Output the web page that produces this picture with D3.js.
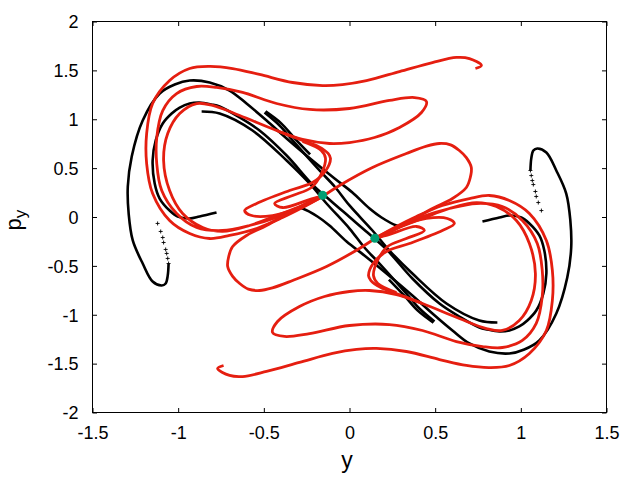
<!DOCTYPE html>
<html><head><meta charset="utf-8">
<script src="https://cdn.jsdelivr.net/npm/d3@7/dist/d3.min.js"></script>
<style>html,body{margin:0;background:#fff}svg{display:block}text{font-family:"Liberation Sans",Arial,sans-serif;fill:#000}</style>
</head><body><svg id="c" width="640" height="480"></svg>
<script>
const xTicks=[-1.5,-1,-0.5,0,0.5,1,1.5];
const yTicks=[-2,-1.5,-1,-0.5,0,0.5,1,1.5,2];
const xLabels=["-1.5","-1","-0.5","0","0.5","1","1.5"];
const yLabels=["-2","-1.5","-1","-0.5","0","0.5","1","1.5","2"];
const blackOuterA=[[1.056,.476],[1.061,.600],[1.073,.680],[1.096,.701],[1.149,.660],[1.207,.476],[1.265,.240],[1.289,-.036],[1.294,-.312],[1.271,-.619],[1.207,-.987],[1.108,-1.263],[1.020,-1.355],[.933,-1.396],[.816,-1.376],[.700,-1.294],[.601,-1.161],[.484,-.987],[.367,-.803],[.216,-.578],[.087,-.394],[-.017,-.251],[-.117,-.087],[-.187,.005],[-.274,.087],[-.300,.095]];
const blackOuterB=[[-1.056,-.476],[-1.061,-.600],[-1.073,-.680],[-1.096,-.701],[-1.149,-.660],[-1.207,-.476],[-1.265,-.240],[-1.289,.036],[-1.294,.312],[-1.271,.619],[-1.207,.987],[-1.108,1.263],[-1.020,1.355],[-.933,1.396],[-.816,1.376],[-.700,1.294],[-.601,1.161],[-.484,.987],[-.367,.803],[-.216,.578],[-.087,.394],[.017,.251],[.117,.087],[.187,-.005],[.274,-.087],[.300,-.095]];
const blackCentre=[[-.776,.046],[-.875,.005],[-.933,-.015],[-1.003,.005],[-1.050,.066],[-1.108,.189],[-1.137,.343],[-1.149,.578],[-1.131,.783],[-1.090,.957],[-1.038,1.059],[-.991,1.120],[-.933,1.161],[-.875,1.171],[-.805,1.151],[-.758,1.130],[-.641,1.018],[-.525,.885],[-.367,.629],[-.216,.332],[-.105,.159],[0,0],[.105,-.159],[.216,-.332],[.367,-.629],[.525,-.885],[.641,-1.018],[.758,-1.130],[.805,-1.151],[.875,-1.171],[.933,-1.161],[.991,-1.120],[1.038,-1.059],[1.090,-.957],[1.131,-.783],[1.149,-.578],[1.137,-.343],[1.108,-.189],[1.050,-.066],[1.003,-.005],[.933,.015],[.875,-.005],[.776,-.046]];
const blackStrandA=[[-.496,1.069],[-.408,.936],[-.332,.783],[-.175,.476],[-.087,.312],[0,.118],[.134,-.138],[.233,-.343],[.367,-.578],[.566,-.885],[.758,-1.059],[.863,-1.079]];
const blackStrandB=[[.496,-1.069],[.408,-.936],[.332,-.783],[.175,-.476],[.087,-.312],[0,-.118],[-.134,.138],[-.233,.343],[-.367,.578],[-.566,.885],[-.758,1.059],[-.863,1.079]];
const blackStubA=[[-.490,1.080],[-.400,.960],[-.320,.805],[-.230,.640]];
const blackStubB=[[.490,-1.080],[.400,-.960],[.320,-.805],[.230,-.640]];
const dotsRight=[[1.120,.066],[1.102,.148],[1.090,.210],[1.085,.261],[1.073,.332],[1.067,.373],[1.061,.424],[1.056,.476]];
const dotsLeft=[[-1.120,-.066],[-1.102,-.148],[-1.090,-.210],[-1.085,-.261],[-1.073,-.332],[-1.067,-.373],[-1.061,-.424],[-1.056,-.476]];
const redOuterA=[[.735,1.519],[.770,1.550],[.700,1.621],[.624,1.632],[.484,1.580],[.292,1.488],[.099,1.396],[-.041,1.355],[-.157,1.345],[-.332,1.376],[-.525,1.458],[-.682,1.519],[-.816,1.540],[-.933,1.519],[-1.050,1.396],[-1.149,1.161],[-1.184,.854],[-1.184,.547],[-1.149,.240],[-1.050,-.036],[-.933,-.169],[-.816,-.220],[-.700,-.189],[-.542,-.118],[-.391,-.005],[-.274,.097],[-.157,.210]];
const redOuterB=[[-.735,-1.519],[-.770,-1.550],[-.700,-1.621],[-.624,-1.632],[-.484,-1.580],[-.292,-1.488],[-.099,-1.396],[.041,-1.355],[.157,-1.345],[.332,-1.376],[.525,-1.458],[.682,-1.519],[.816,-1.540],[.933,-1.519],[1.050,-1.396],[1.149,-1.161],[1.184,-.854],[1.184,-.547],[1.149,-.240],[1.050,.036],[.933,.169],[.816,.220],[.700,.189],[.542,.118],[.391,.005],[.274,-.097],[.157,-.210]];
const redLoopA=[[-.157,.210],[-.274,.107],[-.426,-.005],[-.583,-.087],[-.741,-.138],[-.892,-.107],[-1.009,.036],[-1.096,.271],[-1.125,.547],[-1.125,.813],[-1.090,1.089],[-1.009,1.263],[-.892,1.335],[-.776,1.325],[-.624,1.274],[-.426,1.161],[-.233,1.100],[0,1.110],[.233,1.192],[.379,1.222],[.449,1.182],[.420,1.069],[.292,.916],[.146,.813],[0,.762],[-.117,.752],[-.274,.793],[-.426,.885],[-.641,1.038],[-.799,1.141],[-.892,1.161],[-.991,1.059],[-1.061,.854],[-1.085,.578],[-1.050,.271],[-.974,.036],[-.857,-.107],[-.741,-.148],[-.583,-.087],[-.426,.015],[-.274,.118],[-.157,.210]];
const redLoopB=[[.157,-.210],[.274,-.107],[.426,.005],[.583,.087],[.741,.138],[.892,.107],[1.009,-.036],[1.096,-.271],[1.125,-.547],[1.125,-.813],[1.090,-1.089],[1.009,-1.263],[.892,-1.335],[.776,-1.325],[.624,-1.274],[.426,-1.161],[.233,-1.100],[0,-1.110],[-.233,-1.192],[-.379,-1.222],[-.449,-1.182],[-.420,-1.069],[-.292,-.916],[-.146,-.813],[0,-.762],[.117,-.752],[.274,-.793],[.426,-.885],[.641,-1.038],[.799,-1.141],[.892,-1.161],[.991,-1.059],[1.061,-.854],[1.085,-.578],[1.050,-.271],[.974,-.036],[.857,.107],[.741,.148],[.583,.087],[.426,-.015],[.274,-.118],[.157,-.210]];
const redHookA1=[[-.157,.210],[-.309,.087],[-.449,.015],[-.571,.015],[-.612,.066],[-.542,.138],[-.350,.271],[-.216,.353],[-.140,.470],[-.111,.600],[-.125,.650],[-.180,.720],[-.274,.783],[-.426,.885]];
const redHookA2=[[.157,-.210],[.309,-.087],[.449,-.015],[.571,-.015],[.612,-.066],[.542,-.138],[.350,-.271],[.216,-.353],[.140,-.470],[.111,-.600],[.125,-.650],[.180,-.720],[.274,-.783],[.426,-.885]];
const redHookB1=[[-.157,.210],[-.216,.189],[-.391,.097],[-.437,.138],[-.332,.220],[-.222,.302],[-.165,.440],[-.140,.600],[-.165,.680],[-.274,.772]];
const redHookB2=[[.157,-.210],[.216,-.189],[.391,-.097],[.437,-.138],[.332,-.220],[.222,-.302],[.165,-.440],[.140,-.600],[.165,-.680],[.274,-.772]];
const redLobeA=[[-.157,.210],[-.058,.322],[.134,.506],[.332,.649],[.450,.725],[.525,.752],[.590,.738],[.641,.680],[.682,.607],[.711,.506],[.705,.404],[.682,.302],[.601,.189],[.484,.087],[.332,-.066],[.175,-.210]];
const redLobeB=[[.157,-.210],[.058,-.322],[-.134,-.506],[-.332,-.649],[-.450,-.725],[-.525,-.752],[-.590,-.738],[-.641,-.680],[-.682,-.607],[-.711,-.506],[-.705,-.404],[-.682,-.302],[-.601,-.189],[-.484,-.087],[-.332,.066],[-.175,.210]];
const fixedPoints=[[-.157,.222],[.148,-.218]];

const L=92.5,R=606.5,T=21.5,B=412.5;
const svg=d3.select("#c");
const x=d3.scaleLinear().domain([-1.5,1.5]).range([L,R]);
const y=d3.scaleLinear().domain([-2,2]).range([B,T]);
const line=d3.line().x(d=>x(d[0])).y(d=>y(d[1])).curve(d3.curveCatmullRom.alpha(0.5));

const blacks=[blackOuterA,blackOuterB,blackCentre,blackStrandA,blackStrandB,blackStubA,blackStubB];
svg.append("g").selectAll("path").data(blacks).join("path").attr("d",line).attr("fill","none").attr("stroke","#000").attr("stroke-width",2.6);
svg.append("g").selectAll("path").data(dotsRight.concat(dotsLeft)).join("path")
  .attr("transform",d=>`translate(${x(d[0])},${y(d[1])})`)
  .attr("d",d3.symbol().type(d3.symbolPlus).size(6)).attr("fill","none").attr("stroke","#000").attr("stroke-width",0.9);
const reds=[redOuterA,redOuterB,redLoopA,redLoopB,redHookA1,redHookA2,redHookB1,redHookB2,redLobeA,redLobeB];
svg.append("g").selectAll("path").data(reds).join("path").attr("d",line).attr("fill","none").attr("stroke","#e51e10").attr("stroke-width",2.8);
svg.append("g").selectAll("circle").data(fixedPoints).join("circle").attr("cx",d=>x(d[0])).attr("cy",d=>y(d[1])).attr("r",4.5).attr("fill","#009e73");

const gx=svg.append("g").attr("transform",`translate(0,${B})`).call(d3.axisBottom(x).tickValues(xTicks).tickSize(-4.5).tickFormat((d,i)=>xLabels[i]));
const gy=svg.append("g").attr("transform",`translate(${L},0)`).call(d3.axisLeft(y).tickValues(yTicks).tickSize(-4.5).tickFormat((d,i)=>yLabels[i]));
const gt=svg.append("g").attr("transform",`translate(0,${T})`).call(d3.axisTop(x).tickValues(xTicks).tickSize(-4.5).tickFormat(""));
const gr=svg.append("g").attr("transform",`translate(${R},0)`).call(d3.axisRight(y).tickValues(yTicks).tickSize(-4.5).tickFormat(""));
[gx,gy,gt,gr].forEach(g=>{g.select(".domain").remove();g.selectAll("line").attr("stroke","#000");g.selectAll("text").attr("font-size",18).attr("font-family",'"Liberation Sans",Arial,sans-serif').attr("fill","#000");});
gx.selectAll("text").attr("y",14).attr("dy",".71em");
gy.selectAll("text").attr("x",-14).attr("dy",".35em");
svg.append("rect").attr("x",L).attr("y",T).attr("width",R-L).attr("height",B-T).attr("fill","none").attr("stroke","#000");
svg.append("text").attr("x",347).attr("y",468).attr("text-anchor","middle").attr("font-size",23).text("y");
const py=svg.append("text").attr("transform","translate(20.5,230.5) rotate(-90)").attr("text-anchor","start").attr("font-size",22);
py.append("tspan").text("p");
py.append("tspan").attr("font-size",17).attr("dy",5).text("y");
</script></body></html>
